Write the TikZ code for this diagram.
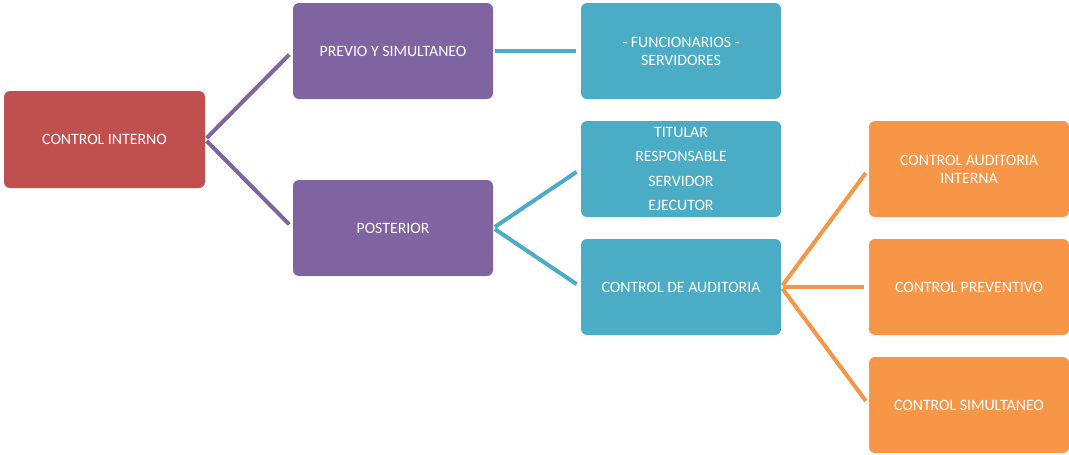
\documentclass[tikz,border=0pt]{standalone}
\usepackage{fontspec}
\setmainfont{Carlito}
\definecolor{ciRed}{HTML}{C0504D}
\definecolor{ciPurple}{HTML}{8064A2}
\definecolor{ciBlue}{HTML}{4BACC6}
\definecolor{ciOrange}{HTML}{F79646}
\tikzset{
  box/.style={rounded corners=6pt,minimum width=200pt,minimum height=96pt,inner sep=0pt,
    text=white,align=center,font=\fontsize{15.8}{18}\selectfont},
  link/.style={line width=4pt,shorten >=5pt,shorten <=2pt}
}
\begin{document}
\begin{tikzpicture}[x=1pt,y=-1pt]
  \useasboundingbox (0,0) rectangle (1069,455);

  \node[box,fill=ciRed,minimum width=201pt,minimum height=97pt] (ci) at (104.5,139.5) {CONTROL INTERNO};

  \node[box,fill=ciPurple] (pv) at (393,51) {PREVIO Y SIMULTANEO};
  \node[box,fill=ciPurple] (po) at (393,228) {POSTERIOR};

  \node[box,fill=ciBlue] (fs) at (681,51) {- FUNCIONARIOS -\\SERVIDORES};
  \node[box,fill=ciBlue,font=\fontsize{15.8}{24.5}\selectfont] (ti) at (681,169) {TITULAR\\RESPONSABLE\\SERVIDOR\\EJECUTOR};
  \node[box,fill=ciBlue] (ca) at (681,287) {CONTROL DE AUDITORIA};

  \node[box,fill=ciOrange] (ai) at (969,169) {CONTROL AUDITORIA\\INTERNA};
  \node[box,fill=ciOrange] (cp) at (969,287) {CONTROL PREVENTIVO};
  \node[box,fill=ciOrange] (cs) at (969,405) {CONTROL SIMULTANEO};

  \draw[link,ciPurple] (ci.east) -- (pv.west);
  \draw[link,ciPurple] (ci.east) -- (po.west);

  \draw[link,ciBlue] (pv.east) -- (fs.west);
  \draw[link,ciBlue] (po.east) -- (ti.west);
  \draw[link,ciBlue] (po.east) -- (ca.west);

  \draw[link,ciOrange] (ca.east) -- (ai.west);
  \draw[link,ciOrange] (ca.east) -- (cp.west);
  \draw[link,ciOrange] (ca.east) -- (cs.west);
\end{tikzpicture}
\end{document}
